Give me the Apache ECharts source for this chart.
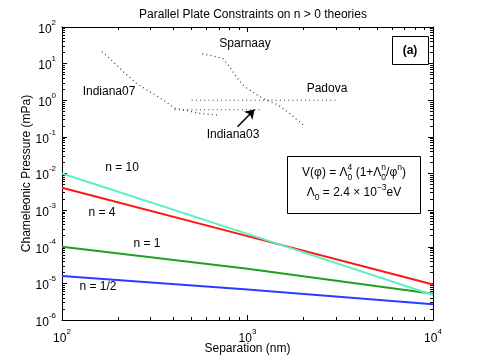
<!DOCTYPE html>
<html><head><meta charset="utf-8">
<script src="https://cdn.jsdelivr.net/npm/echarts@6/dist/echarts.min.js"></script>
<style>html,body{margin:0;padding:0;background:#fff}#c{width:480px;height:361px}</style>
</head><body><div id="c"></div>
<script>
// ---- data ----
const xRange = [100, 10000];
const yRange = [1e-6, 100];
const sepN10 = [100, 1000, 10000];
const presN10 = [1.0e-2, 2.25e-4, 4.8e-6];
const sepN4 = [100, 1000, 10000];
const presN4 = [4.1e-3, 1.95e-4, 9.3e-6];
const sepN1 = [100, 1000, 10000];
const presN1 = [1.0e-4, 2.5e-5, 5.2e-6];
const sepNhalf = [100, 1000, 10000];
const presNhalf = [1.6e-5, 6.8e-6, 2.7e-6];
const indiana07X = [164, 189, 214, 252, 297, 351, 405, 468, 552, 707];
const indiana07Y = [21.2, 11.3, 6.0, 2.9, 1.72, 1.02, 0.61, 0.52, 0.44, 0.39];
const indiana03X = [405, 1175];
const indiana03Y = [0.55, 0.55];
const padovaX = [500, 3050];
const padovaY = [1.0, 1.0];
const sparnaayX = [570, 650, 736, 800, 869, 964, 1090, 1233, 1456, 1683, 2023];
const sparnaayY = [18.4, 16.2, 14, 8.3, 4.4, 2.35, 1.55, 1.07, 0.75, 0.44, 0.2];
const arrowFrom = [883, 0.19];
const arrowTo = [1091, 0.56];
const xDecades = [2, 3];          // minor ticks 2..9 x 10^k
const yDecades = [-6, -5, -4, -3, -2, -1, 0, 1];
const minorMult = [2, 3, 4, 5, 6, 7, 8, 9];

const zip = (a, b) => a.map((v, i) => [v, b[i]]);
const FONT = 'Liberation Sans';

const xMinor = [], yMinor = [];
xDecades.forEach(k => minorMult.forEach(m => xMinor.push(+(m * Math.pow(10, k)).toPrecision(6))));
yDecades.forEach(k => minorMult.forEach(m => yMinor.push(+(m * Math.pow(10, k)).toPrecision(6))));

function expLabel(v) {
  const e = Math.round(Math.log10(v));
  return '{b|10}{s|' + (e < 0 ? '-' + (-e) : e) + '}';
}
const richLbl = {
  b: { fontSize: 12, fontFamily: FONT, color: '#000', padding: [5, 0, 0, 0], verticalAlign: 'bottom' },
  s: { fontSize: 8, fontFamily: FONT, color: '#000', verticalAlign: 'top' }
};

const axisCommon = {
  type: 'log', logBase: 10,
  axisLine: { lineStyle: { color: '#000', width: 1 } },
  axisTick: { inside: true, length: 5, lineStyle: { color: '#000' } },
  splitLine: { show: false },
  minorTick: { show: false }
};
function minorAxis(range, pos, vals) {
  return Object.assign({}, axisCommon, {
    min: range[0], max: range[1], position: pos,
    axisLine: { show: false },
    axisLabel: { show: false },
    axisTick: { inside: true, length: 3, customValues: vals, lineStyle: { color: '#000' } }
  });
}

// math-like text composed of pieces: n = normal, sup, sub, stack = [sup, sub]
const measureCtx = document.createElement('canvas').getContext('2d');
function tw(t, size) { measureCtx.font = size + 'px "' + FONT + '"'; return measureCtx.measureText(t).width; }
function mathLine(pieces, cx, cy) {
  const BIG = 12, SM = 8.5;
  let widths = pieces.map(p => p.k === 'n' ? tw(p.t, BIG) : p.k === 'stack' ? Math.max(tw(p.t[0], SM), tw(p.t[1], SM)) : tw(p.t, SM));
  const total = widths.reduce((a, b) => a + b, 0);
  let x = cx - total / 2;
  const els = [];
  const mk = (t, xx, yy, s) => ({ type: 'text', x: xx, y: yy, style: { text: t, font: s + 'px ' + FONT, fill: '#000', align: 'left', verticalAlign: 'middle' } });
  pieces.forEach((p, i) => {
    if (p.k === 'n') els.push(mk(p.t, x, cy, BIG));
    else if (p.k === 'sup') els.push(mk(p.t, x, cy - 5, SM));
    else if (p.k === 'sub') els.push(mk(p.t, x, cy + 4.5, SM));
    else { els.push(mk(p.t[0], x, cy - 5, SM)); els.push(mk(p.t[1], x, cy + 4.5, SM)); }
    x += widths[i];
  });
  return els;
}
const formula1 = mathLine([
  { k: 'n', t: 'V(φ) = Λ' }, { k: 'stack', t: ['4', '0'] }, { k: 'n', t: ' (1+Λ' },
  { k: 'stack', t: ['n', '0'] }, { k: 'n', t: '/φ' }, { k: 'sup', t: 'n' }, { k: 'n', t: ')' }
], 354, 173);
const formula2 = mathLine([
  { k: 'n', t: 'Λ' }, { k: 'sub', t: '0' }, { k: 'n', t: ' = 2.4 × 10' }, { k: 'sup', t: '−3' }, { k: 'n', t: 'eV' }
], 354, 193);

const chart = echarts.init(document.getElementById('c'));
const dotted = { color: '#333', width: 1.2, type: [1, 3.2] };
const T = (t, x, y, extra) => ({ type: 'text', x: x, y: y, style: Object.assign({ text: t, font: '12px ' + FONT, fill: '#000', align: 'center', verticalAlign: 'middle' }, extra || {}) });
chart.setOption({
  animation: false,
  backgroundColor: '#fff',
  title: {
    text: 'Parallel Plate Constraints on n > 0 theories',
    left: 248, top: 4, textAlign: 'center',
    textStyle: { fontFamily: FONT, fontSize: 12, fontWeight: 'normal', color: '#000' }
  },
  grid: { left: 62, top: 27, right: 47, bottom: 41, containLabel: false, outerBoundsMode: 'none' },
  xAxis: [
    Object.assign({}, axisCommon, {
      min: xRange[0], max: xRange[1], position: 'bottom',
      name: 'Separation (nm)', nameLocation: 'middle', nameGap: 23, nameMoveOverlap: false,
      nameTextStyle: { fontFamily: FONT, fontSize: 12, color: '#000' },
      axisLabel: { formatter: expLabel, rich: richLbl, margin: 8 }
    }),
    Object.assign({}, axisCommon, {
      min: xRange[0], max: xRange[1], position: 'top', axisLabel: { show: false }
    }),
    minorAxis(xRange, 'bottom', xMinor),
    minorAxis(xRange, 'top', xMinor)
  ],
  yAxis: [
    Object.assign({}, axisCommon, {
      min: yRange[0], max: yRange[1], position: 'left',
      name: 'Chameleonic Pressure (mPa)', nameLocation: 'middle', nameGap: 29, nameMoveOverlap: false,
      nameTextStyle: { fontFamily: FONT, fontSize: 12, color: '#000' },
      axisLabel: { formatter: expLabel, rich: richLbl, margin: 6 }
    }),
    Object.assign({}, axisCommon, {
      min: yRange[0], max: yRange[1], position: 'right', axisLabel: { show: false }
    }),
    minorAxis(yRange, 'left', yMinor),
    minorAxis(yRange, 'right', yMinor)
  ],
  series: [
    { type: 'line', data: zip(indiana07X, indiana07Y), showSymbol: false, lineStyle: dotted },
    { type: 'line', data: zip(indiana03X, indiana03Y), showSymbol: false, lineStyle: dotted },
    { type: 'line', data: zip(padovaX, padovaY), showSymbol: false, lineStyle: dotted },
    { type: 'line', data: zip(sparnaayX, sparnaayY), showSymbol: false, lineStyle: dotted },
    { type: 'lines', coordinateSystem: 'cartesian2d', symbol: ['none', 'arrow'], symbolSize: 9,
      lineStyle: { color: '#000', width: 1.5, opacity: 1 },
      data: [{ coords: [arrowFrom, arrowTo] }] },
    { type: 'line', data: zip(sepNhalf, presNhalf), showSymbol: false, lineStyle: { color: '#2a3cff', width: 2 } },
    { type: 'line', data: zip(sepN1, presN1), showSymbol: false, lineStyle: { color: '#1f9e1f', width: 2 } },
    { type: 'line', data: zip(sepN4, presN4), showSymbol: false, lineStyle: { color: '#ff1414', width: 2 } },
    { type: 'line', data: zip(sepN10, presN10), showSymbol: false, lineStyle: { color: '#5cf0c2', width: 2 } }
  ],
  graphic: [
    T('Indiana07', 109, 92), T('Sparnaay', 245, 44), T('Padova', 327, 89), T('Indiana03', 233, 135),
    T('n = 10', 122, 168), T('n = 4', 102, 213), T('n = 1', 147, 244), T('n = 1/2', 98, 287),
    { type: 'rect', shape: { x: 392.5, y: 36.5, width: 36, height: 28 }, style: { fill: '#fff', stroke: '#000', lineWidth: 1 } },
    T('(a)', 410, 50.5, { font: 'bold 12px ' + FONT }),
    { type: 'rect', shape: { x: 287.5, y: 156.5, width: 133, height: 57 }, style: { fill: '#fff', stroke: '#000', lineWidth: 1 } }
  ].concat(formula1, formula2)
});
</script></body></html>
